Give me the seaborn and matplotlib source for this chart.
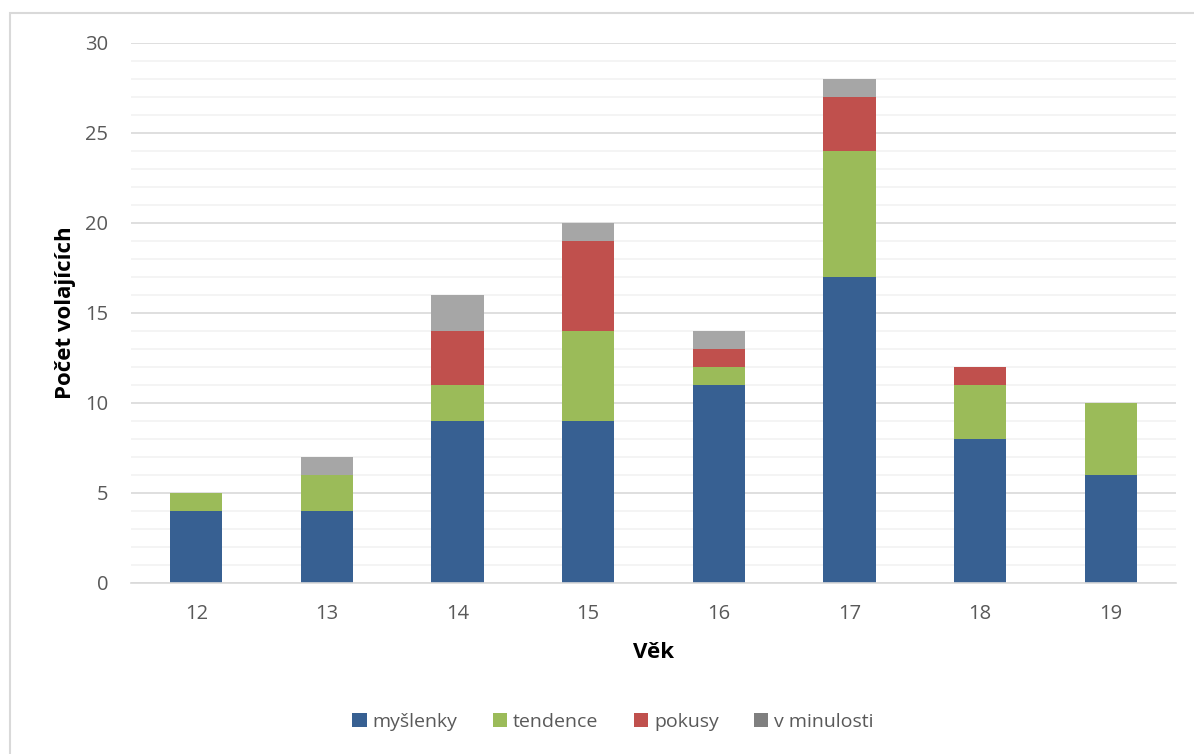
import numpy as np
import pandas as pd
import matplotlib
matplotlib.use("Agg")
import matplotlib.pyplot as plt
from matplotlib.patches import Rectangle, Patch
from matplotlib.ticker import MultipleLocator
import seaborn as sns

# Call counts by age and category
ages = ["12", "13", "14", "15", "16", "17", "18", "19"]
myslenky = [4, 4, 9, 9, 11, 17, 8, 6]
tendence = [1, 2, 2, 5, 1, 7, 3, 4]
pokusy = [0, 0, 3, 5, 1, 3, 1, 0]
v_minulosti = [0, 1, 2, 1, 1, 1, 0, 0]

series_names = ["myšlenky", "tendence", "pokusy", "v minulosti"]
series_values = [myslenky, tendence, pokusy, v_minulosti]
bar_colors = ["#376092", "#9BBB59", "#C0504D", "#A6A6A6"]
legend_colors = ["#376092", "#9BBB59", "#C0504D", "#7F7F7F"]

sns.set_theme(style="white")
plt.rcParams["font.family"] = ["Open Sans", "DejaVu Sans"]

W, H = 1194, 754
fig = plt.figure(figsize=(W / 100, H / 100), dpi=100)
ax = fig.add_axes([131 / W, 1 - 583 / H, (1176 - 131) / W, (583 - 43) / H])

# Stacked bars: draw cumulative totals from the top layer down
df = pd.DataFrame({"age": ages})
cum = np.zeros(len(ages))
cums = []
for vals in series_values:
    cum = cum + np.array(vals)
    cums.append(cum.copy())
for name, total, color in reversed(list(zip(series_names, cums, bar_colors))):
    df[name] = total
    sns.barplot(data=df, x="age", y=name, color=color, width=0.4,
                saturation=1, linewidth=0, ax=ax, order=ages)

ax.set_ylim(0, 30)
ax.set_xlim(-0.5, len(ages) - 0.5)
ax.yaxis.set_major_locator(MultipleLocator(5))
ax.yaxis.set_minor_locator(MultipleLocator(1))
ax.grid(axis="y", which="major", color="#D9D9D9", linewidth=1.2, zorder=0)
ax.grid(axis="y", which="minor", color="#F2F2F2", linewidth=1.2, zorder=0)
ax.set_axisbelow(True)
for s in ["top", "right", "left"]:
    ax.spines[s].set_visible(False)
ax.spines["bottom"].set_color("#D9D9D9")
ax.spines["bottom"].set_linewidth(1.2)
ax.tick_params(axis="both", which="both", length=0, labelsize=14.5, labelcolor="#595959")
ax.tick_params(axis="y", pad=16.5)
ax.tick_params(axis="x", pad=15)

ax.set_xlabel("Věk", fontsize=16, fontweight="bold", color="black")
ax.set_ylabel("Počet volajících", fontsize=16, fontweight="bold", color="black")
ax.xaxis.label.set_va("center")
ax.yaxis.label.set_va("center")
ax.xaxis.set_label_coords(0.5, (583 - 653) / (583 - 43))
ax.yaxis.set_label_coords((66 - 131) / (1176 - 131), 0.5)

handles = [Patch(facecolor=c, edgecolor="none") for c in legend_colors]
fig.legend(handles, series_names, loc="center", bbox_to_anchor=(613 / W, 1 - 722 / H),
           ncol=4, frameon=False, fontsize=14, handlelength=0.75, handleheight=0.75,
           handletextpad=0.3, columnspacing=1.8, labelcolor="#595959")

# Chart frame
fig.patches.append(Rectangle((10 / W, -0.1), 1.2, 1.1 - 13 / H,
                             transform=fig.transFigure, fill=False,
                             edgecolor="#D9D9D9", linewidth=1.5))

fig.savefig("out.png", dpi=100)
